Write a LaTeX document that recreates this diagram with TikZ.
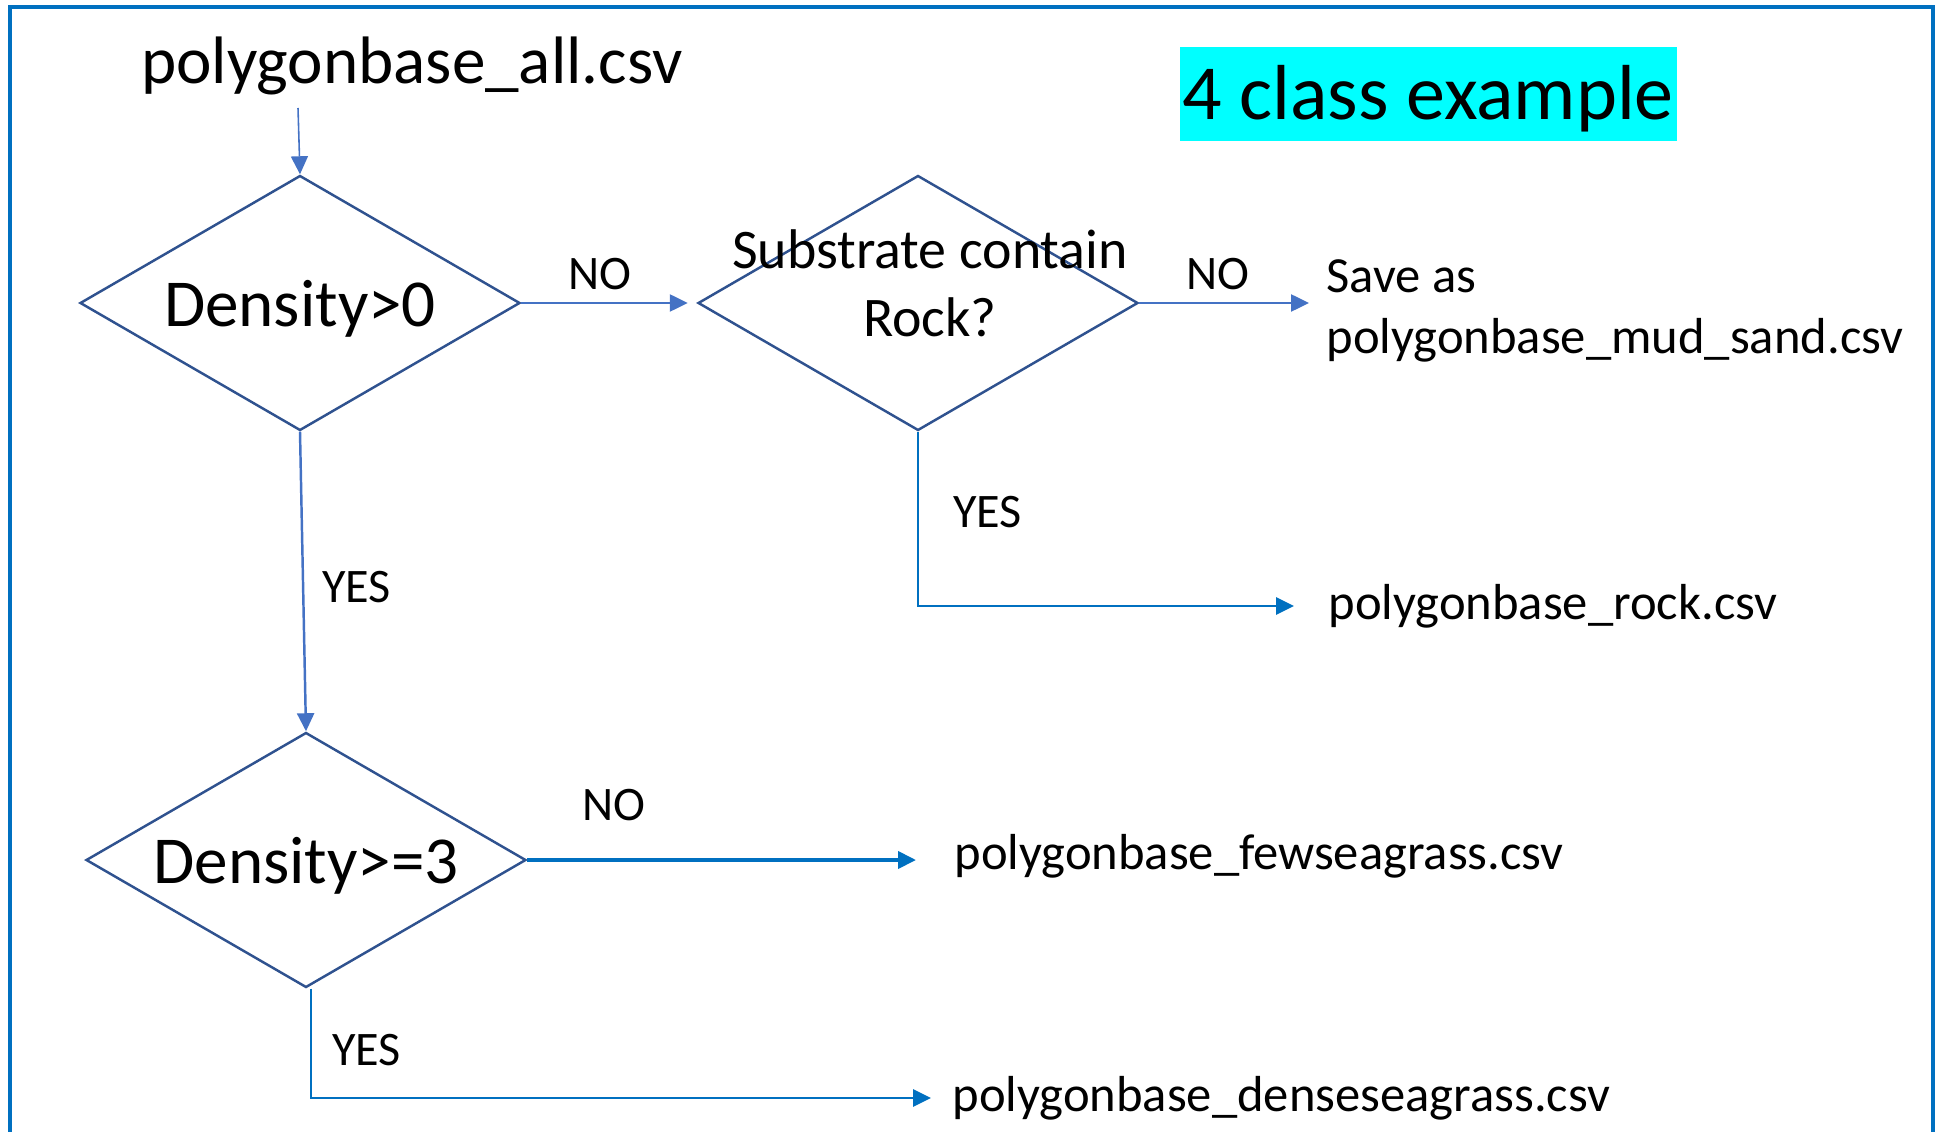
\documentclass[tikz,border=0pt]{standalone}
\usepackage{fontspec}
\setmainfont{Carlito}
\usetikzlibrary{shapes.geometric,arrows.meta,positioning}
\definecolor{frameblue}{HTML}{0070C0}
\definecolor{edgeblue}{HTML}{2F528F}
\definecolor{arrowblue}{HTML}{4472C4}
\definecolor{titlecyan}{RGB}{0,255,255}

\begin{document}
\begin{tikzpicture}[
    decision/.style={diamond, draw=edgeblue, line width=0.7pt, shape aspect=1.725,
      minimum width=4.4cm, minimum height=2.55cm, inner sep=0pt, text depth=0pt,
      font=\fontsize{19.1}{23}\selectfont},
    file/.style={anchor=west, align=left, font=\fontsize{14.4}{17.6}\selectfont},
    answer/.style={font=\fontsize{13.7}{16}\selectfont},
    flow/.style={draw=arrowblue, line width=0.7pt, -{Triangle[length=0.18cm,width=0.17cm]}},
    flowb/.style={draw=frameblue, line width=0.8pt, -{Triangle[length=0.18cm,width=0.17cm]}},
  ]
  \useasboundingbox (0,0) rectangle (19.41,11.31);
  \draw[frameblue, line width=1pt] (0.10,-0.2) rectangle (19.33,11.24);

  % input file and title
  \node[anchor=base, font=\fontsize{19.1}{23}\selectfont] (all) at (4.12,10.47) {polygonbase\_all.csv};
  \node[fill=titlecyan, minimum width=4.97cm, inner sep=0pt, text height=0.73cm, text depth=0.21cm,
    font=\fontsize{22.2}{26}\selectfont] (title) at (14.28,10.37) {4 class example};
  \coordinate (start) at (2.98,10.23);

  % decisions
  \node[decision] (density0) at (3.00,8.28) {Density>0};
  \node[decision] (rockq) at (9.18,8.28) {};
  \node[align=center, font=\fontsize{15.9}{19.3}\selectfont] (rocktext) at (9.30,8.48) {Substrate contain\\Rock?};
  \node[decision] (density3) at (3.06,2.71) {Density>=3};

  % outputs
  \node[file] (save) at (13.14,8.20) {Save as\\polygonbase\_mud\_sand.csv};
  \node[file] (rock) at (13.16,5.25) {polygonbase\_rock.csv};
  \node[file] (few) at (9.42,2.75) {polygonbase\_fewseagrass.csv};
  \node[file] (dense) at (9.40,0.33) {polygonbase\_denseseagrass.csv};

  \draw[flow, line width=0.45pt] (start) -- (density0.north);
  \draw[flow, shorten >=0.09cm] (density0.east) -- (rockq.west)
    node[pos=0.45, above, answer] {NO};
  \draw[flow, shorten >=0.05cm] (rockq.east) -- (rockq.east -| save.west)
    node[pos=0.45, above, answer] {NO};
  \draw[flowb, shorten >=0.22cm] (rockq.south) |- (rock.west)
    node[pos=0.23, right=0.22cm, answer] {YES};
  \draw[flow] (density0.south) -- (density3.north)
    node[pos=0.52, right=0.06cm, answer] {YES};
  \draw[flowb, line width=1.1pt, shorten >=0.26cm] (density3.east) -- (density3.east -| few.west)
    node[pos=0.21, above=0.26cm, answer] {NO};
  \draw[flowb, shorten >=0.09cm] ([xshift=0.05cm]density3.south) |- (dense.west)
    node[pos=0.28, right=0.08cm, answer] {YES};
\end{tikzpicture}
\end{document}
